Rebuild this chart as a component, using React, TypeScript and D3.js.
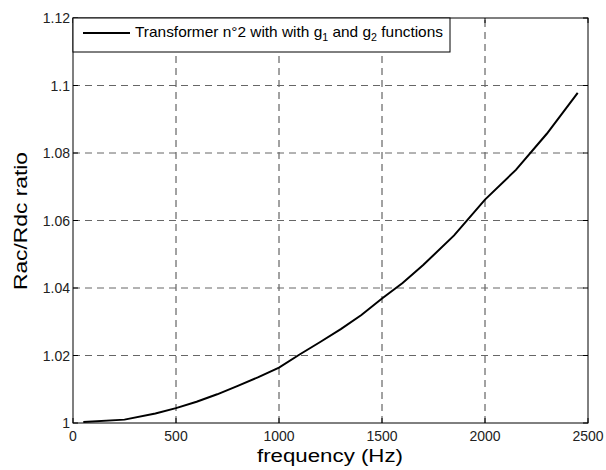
import React from "react";
import * as d3 from "d3";

const freqs = [50, 250, 400, 500, 600, 700, 800, 900, 1000, 1100, 1200, 1300, 1400, 1500, 1600, 1700, 1850, 2000, 2150, 2300, 2450];
const ratios = [1.0003, 1.001, 1.0028, 1.0044, 1.0063, 1.0085, 1.011, 1.0136, 1.0164, 1.0203, 1.024, 1.0278, 1.032, 1.0369, 1.0415, 1.0468, 1.0556, 1.0662, 1.075, 1.0857, 1.0978];
const xTicks = [0, 500, 1000, 1500, 2000, 2500];
const yTicks = [1, 1.02, 1.04, 1.06, 1.08, 1.1, 1.12];

export default function App() {
  const W = 606, H = 470;
  const L = 73, R = 588, T = 18, B = 423;
  const x = d3.scaleLinear().domain([0, 2500]).range([L, R]);
  const y = d3.scaleLinear().domain([1, 1.12]).range([B, T]);
  const line = d3.line<number>().x((d, i) => x(freqs[i])).y((d) => y(d));
  const font = "'Liberation Sans', Arial, sans-serif";
  const fmtY = (v: number) => String(+v.toFixed(2));
  return (
    <svg width={W} height={H} style={{ position: "absolute", left: 0, top: 0, background: "#fff" }} fontFamily={font}>
      <rect x={0} y={0} width={W} height={H} fill="#fff" />
      {xTicks.slice(1, -1).map((t) => (
        <line key={"gx" + t} x1={x(t)} x2={x(t)} y1={B} y2={T} stroke="#444" strokeWidth={1} strokeDasharray="7,5" />
      ))}
      {yTicks.slice(1, -1).map((t) => (
        <line key={"gy" + t} x1={L} x2={R} y1={y(t)} y2={y(t)} stroke="#666" strokeWidth={1} strokeDasharray="7,5" />
      ))}
      {xTicks.map((t) => (
        <g key={"tx" + t}>
          <line x1={x(t)} x2={x(t)} y1={B} y2={B - 5} stroke="#000" />
          <line x1={x(t)} x2={x(t)} y1={T} y2={T + 5} stroke="#000" />
          <text x={x(t)} y={B + 18} fontSize={14} textAnchor="middle" fill="#222">{t}</text>
        </g>
      ))}
      {yTicks.map((t) => (
        <g key={"ty" + t}>
          <line x1={L} x2={L + 5} y1={y(t)} y2={y(t)} stroke="#000" />
          <line x1={R} x2={R - 5} y1={y(t)} y2={y(t)} stroke="#000" />
          <text x={L - 3} y={y(t) + 5} fontSize={14} textAnchor="end" fill="#222">{fmtY(t)}</text>
        </g>
      ))}
      <path d={line(ratios) || ""} fill="none" stroke="#000" strokeWidth={2} />
      <rect x={L} y={T} width={R - L} height={B - T} fill="none" stroke="#000" strokeWidth={1} />
      <rect x={L} y={T} width={377} height={34} fill="#fff" stroke="#000" strokeWidth={1} />
      <line x1={83} x2={130} y1={33} y2={33} stroke="#000" strokeWidth={2} />
      <text x={135} y={37} fontSize={14.5} fill="#000" textLength={308} lengthAdjust="spacingAndGlyphs">
        Transformer n°2 with with g<tspan fontSize={10} dy={4}>1</tspan>
        <tspan dy={-4}> and g</tspan><tspan fontSize={10} dy={4}>2</tspan>
        <tspan dy={-4}> functions</tspan>
      </text>
      <text x={257} y={462} fontSize={18} fill="#000" textLength={146} lengthAdjust="spacingAndGlyphs">frequency (Hz)</text>
      <text transform={`translate(27,290) rotate(-90)`} fontSize={18.5} fill="#000" textLength={138} lengthAdjust="spacingAndGlyphs">Rac/Rdc ratio</text>
    </svg>
  );
}
